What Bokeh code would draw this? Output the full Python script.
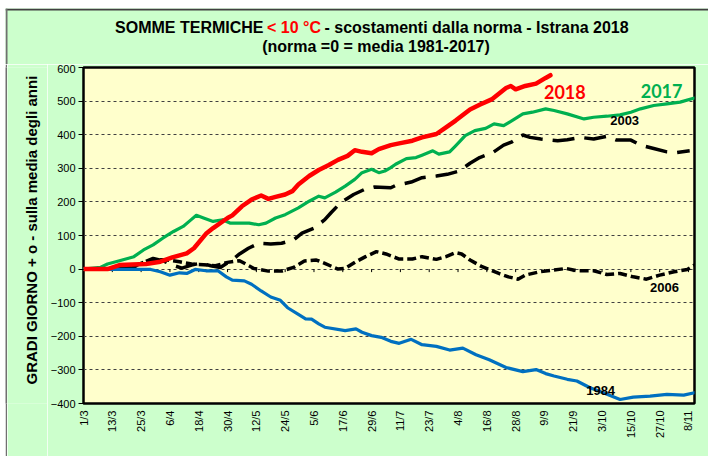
import math
from bokeh.plotting import figure
from bokeh.layouts import column, row
from bokeh.models import Range1d, FixedTicker, Label
from bokeh.embed import file_html
from bokeh.resources import INLINE

# ---------------- data ----------------
tick_days = [0, 12, 24, 36, 48, 60, 72, 84, 96, 108, 120, 132, 144, 156, 168,
             180, 192, 204, 216, 228, 240, 252]
tick_labels = ["1/3", "13/3", "25/3", "6/4", "18/4", "30/4", "12/5", "24/5", "5/6",
               "17/6", "29/6", "11/7", "23/7", "4/8", "16/8", "28/8", "9/9", "21/9",
               "3/10", "15/10", "27/10", "8/11"]
y_ticks = [-400, -300, -200, -100, 0, 100, 200, 300, 400, 500, 600]

red_days = [0, 10, 15, 26, 32, 37, 43, 46, 51, 54, 60, 62, 66, 70, 74, 77, 80, 84, 87,
            89.5, 94, 98, 102, 106, 110, 113, 116, 120, 123, 128, 132, 137, 141, 147,
            151, 155, 161, 165, 170, 173, 176, 178, 180, 184, 188.5, 192.5, 194.5]
red_vals = [0, 0, 12, 15, 22, 35, 47, 62, 105, 122, 152, 160, 187, 207, 219, 209, 215,
            222, 232, 252, 277, 295, 309, 325, 337, 354, 349, 345, 357, 369, 375, 382,
            392, 402, 422, 442, 475, 489, 505, 522, 539, 545, 535, 545, 552, 569, 577]

green_days = [0, 7, 10, 15, 21, 25, 29, 33, 37.5, 41.5, 44.5, 47, 50, 54, 58, 61, 65,
              69, 73, 76, 80, 84, 89.5, 94, 98, 100.5, 105, 109, 113, 116, 120, 123,
              125.5, 128, 130, 134.5, 138.5, 141, 145.5, 148, 152.5, 155, 159, 163,
              167.5, 171, 175, 178.5, 183, 187, 192.5, 196, 201.5, 208.5, 212.5, 218,
              223.5, 228, 232, 237.5, 243, 248.5, 254.5]
green_vals = [0, 5, 15, 25, 37, 57, 72, 92, 112, 127, 145, 160, 152, 142, 147, 137, 137,
              137, 132, 137, 152, 162, 182, 202, 217, 212, 229, 247, 267, 287, 297, 287,
              292, 302, 312, 329, 332, 339, 352, 342, 349, 367, 397, 412, 419, 432, 427,
              442, 462, 467, 477, 472, 462, 447, 452, 455, 459, 467, 477, 487, 492, 497,
              509]

blue_days = [0, 11, 28, 32, 36, 40, 43, 46.5, 51, 56, 59.5, 62, 67, 70, 74, 78, 82, 85,
             89.5, 92.5, 95, 98, 100.5, 109, 113.5, 116, 120, 124, 128, 131.5, 136.5,
             141, 147, 152.5, 158, 163.5, 169, 176, 183, 188.5, 192.5, 196, 201.5,
             205.5, 211, 216.5, 223.5, 229, 236, 243, 250, 254.5]
blue_vals = [0, -1, -1, -8, -18, -11, -13, -1, -5, -5, -23, -33, -35, -45, -65, -83, -93,
             -115, -135, -148, -149, -163, -173, -183, -178, -188, -198, -203, -215,
             -221, -209, -225, -230, -241, -235, -255, -270, -293, -305, -299, -311,
             -318, -328, -333, -353, -368, -388, -381, -378, -373, -375, -368]

y2003_days = [0, 10, 20, 25, 29, 33, 37, 41, 45, 49, 53, 57, 61.8, 65, 68.7, 73, 78,
              82.5, 87.5, 91, 96, 100.5, 103, 107, 112.5, 117, 121, 128, 130, 136.5,
              141, 147, 151.5, 156.5, 161, 165, 170.5, 175, 178.5, 183, 186, 190.5,
              197.5, 201.5, 207, 212.5, 218, 222, 228, 232, 237.5, 243, 247, 252.5]
y2003_vals = [0, 0, 3, 20, 32, 25, 12, 3, 12, 18, 10, 5, 27, 45, 62, 77, 75, 77, 87,
              107, 122, 147, 167, 197, 222, 237, 244, 242, 249, 259, 272, 277, 282, 292,
              315, 332, 347, 369, 379, 399, 392, 387, 382, 385, 392, 387, 395, 384, 384,
              369, 359, 349, 347, 352]

y2006_days = [0, 10, 20, 25, 30, 35, 40, 45, 50, 55, 60, 65, 71, 77, 82.5, 87.5, 92, 97,
              100.5, 106, 109, 113.5, 117.5, 122, 126, 131.5, 137, 141, 147, 151, 155,
              157.5, 161, 166, 173, 177, 181, 184, 190, 196, 201, 205.5, 212.5, 218,
              223.5, 229, 234.5, 240, 246, 251.5, 254.5]
y2006_vals = [0, 0, 5, 20, 28, 27, 22, 15, 13, 10, 20, 25, 2, -6, -6, 5, 24, 27, 17, 0,
              2, 22, 37, 52, 45, 30, 30, 37, 29, 37, 49, 45, 27, 7, -13, -23, -30, -18,
              -8, -3, 2, -5, -5, -16, -13, -23, -30, -18, -8, -1, 12]

GREEN_BG = "#CCFFCC"
FRAME_LEFT_COLOR = "#707070"
FRAME_TOP_COLOR = "#404040"

# ---------------- helper ----------------
def lab(fig, text, x, y, color, font, size, align="center", angle=0.0):
    fig.add_layout(Label(x=x, y=y, text=text, text_color=color, text_font=font,
                         text_font_size=size, text_font_style="bold", angle=angle,
                         text_align=align, text_baseline="middle"))

def blank_fig(w, h, yr, fill=GREEN_BG, top=0, bottom=0):
    f = figure(width=w, height=h, output_backend="svg", toolbar_location=None,
               title=None, x_axis_location=None, y_axis_location=None,
               x_range=Range1d(0, w), y_range=yr,
               min_border=0, min_border_left=0, min_border_right=0,
               min_border_top=top, min_border_bottom=bottom)
    f.background_fill_color = fill
    f.border_fill_color = fill
    f.outline_line_color = None
    f.xgrid.visible = False
    f.ygrid.visible = False
    return f

# ---------------- title strip (page y 8..64) ----------------
tf = blank_fig(703, 56, Range1d(56, 0))
tf.quad(left=[0], right=[703], top=[0], bottom=[2], fill_color=FRAME_TOP_COLOR,
        line_color=None)
tf.quad(left=[0], right=[2], top=[0], bottom=[56], fill_color=FRAME_LEFT_COLOR,
        line_color=None)
TFONT = "Liberation Sans"
lab(tf, "SOMME TERMICHE", 258, 19, "black", TFONT, "16px", "right")
lab(tf, "< 10 °C", 288.5, 19, "#FF0000", TFONT, "16px", "center")
lab(tf, "- scostamenti dalla norma - Istrana 2018", 319, 19, "black", TFONT,
    "16px", "left")
lab(tf, "(norma =0 = media 1981-2017)", 370.5, 38, "black", TFONT, "16px", "center")

# ---------------- left border strip ----------------
bf = blank_fig(2, 392, Range1d(0, 1), fill=FRAME_LEFT_COLOR)

# ---------------- y label strip (frame aligned with chart frame, page y 67..403) ----
yf = blank_fig(40, 392, Range1d(403, 67), top=3, bottom=53)
lab(yf, "GRADI GIORNO + o - sulla media degli anni", 24, 384, "black",
    "Liberation Sans", "15px", "left", math.pi / 2)

# ---------------- main chart ----------------
p = figure(width=661, height=392, output_backend="svg", toolbar_location=None,
           title=None, x_range=Range1d(0, 254.5), y_range=Range1d(-400, 600),
           min_border_left=34, min_border_right=14, min_border_top=3,
           min_border_bottom=53)
p.background_fill_color = "#FFFFCC"
p.border_fill_color = GREEN_BG
p.outline_line_color = "black"
p.outline_line_width = 2.5

p.xgrid.visible = False
p.ygrid.ticker = FixedTicker(ticks=y_ticks)
p.ygrid.grid_line_color = "#404040"
p.ygrid.grid_line_dash = "3 3"
p.ygrid.grid_line_width = 1

p.yaxis.ticker = FixedTicker(ticks=y_ticks)
p.yaxis.axis_line_color = None
p.yaxis.major_tick_out = 5
p.yaxis.major_tick_in = 0
p.yaxis.minor_tick_line_color = None
p.yaxis.major_label_standoff = 3
p.yaxis.major_label_text_font = "Liberation Sans"
p.yaxis.major_label_text_font_size = "11px"
p.yaxis.major_label_text_color = "black"

p.xaxis.ticker = FixedTicker(ticks=tick_days)
p.xaxis.major_label_overrides = {d: s for d, s in zip(tick_days, tick_labels)}
p.xaxis.major_label_orientation = math.pi / 2
p.xaxis.axis_line_color = None
p.xaxis.major_tick_out = 0
p.xaxis.major_tick_in = 0
p.xaxis.minor_tick_line_color = None
p.xaxis.major_label_standoff = 7
p.xaxis.major_label_text_font = "Liberation Sans"
p.xaxis.major_label_text_font_size = "11px"
p.xaxis.major_label_text_color = "black"

# small category ticks on the zero line
p.segment(x0=tick_days, y0=[0] * len(tick_days), x1=tick_days,
          y1=[-9] * len(tick_days), line_color="black", line_width=1)

p.line(y2006_days, y2006_vals, line_color="black", line_width=3.5, line_dash="9 4")
p.line(y2003_days, y2003_vals, line_color="black", line_width=3.5, line_dash="22 10")
p.line(blue_days, blue_vals, line_color="#0070C0", line_width=3.2,
       line_join="round", line_cap="round")
p.line(green_days, green_vals, line_color="#00B050", line_width=3.2,
       line_join="round", line_cap="round")
p.line(red_days, red_vals, line_color="#FF0000", line_width=4.5,
       line_join="round", line_cap="round")

lab(p, "2018", 200.5, 526, "#FF0000", "Lato", "18px")
lab(p, "2017", 240.8, 531, "#00B050", "Lato", "18px")
lab(p, "2003", 225.4, 442, "black", "Liberation Sans", "13px")
lab(p, "2006", 242.0, -55, "black", "Liberation Sans", "13px")
lab(p, "1984", 215.4, -361, "black", "Liberation Sans", "13px")

layout = column(tf, row(bf, yf, p, spacing=0), spacing=0, margin=(8, 0, 0, 5))

open("out.html", "w").write(file_html(layout, INLINE))
